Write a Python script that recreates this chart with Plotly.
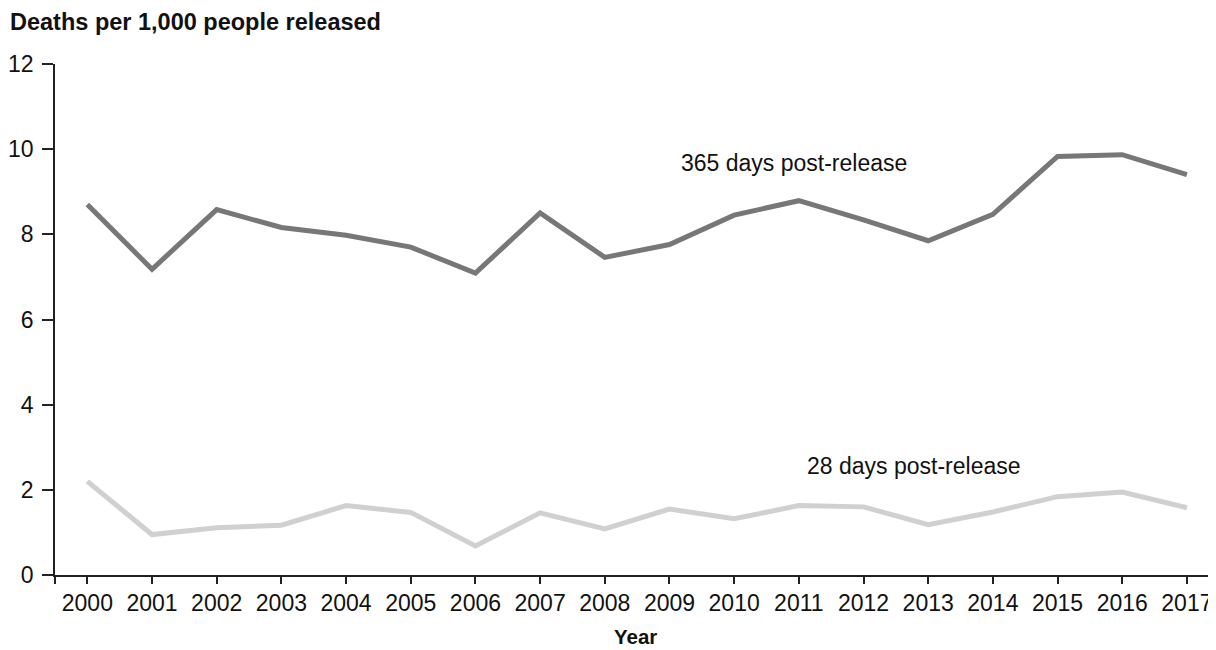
import plotly.graph_objects as go

years = list(range(2000, 2018))
deaths_365 = [8.7, 7.18, 8.58, 8.16, 7.98, 7.7, 7.09, 8.5, 7.46, 7.76, 8.45, 8.79, 8.34, 7.85, 8.47, 9.83, 9.87, 9.4]
deaths_28 = [2.2, 0.95, 1.11, 1.17, 1.63, 1.47, 0.68, 1.46, 1.08, 1.55, 1.32, 1.63, 1.6, 1.18, 1.48, 1.84, 1.95, 1.58]
y_ticks = [0, 2, 4, 6, 8, 10, 12]
label_365 = "365 days post-release"
label_28 = "28 days post-release"

FONT = "Liberation Sans, Arial, sans-serif"

# the page body has an 8px default margin; size the figure to fill the rest
W, H = 1208, 642

fig = go.Figure()
fig.add_trace(go.Scatter(x=years, y=deaths_365, mode="lines",
                         line=dict(color="#777777", width=5), name=label_365,
                         showlegend=False))
fig.add_trace(go.Scatter(x=years, y=deaths_28, mode="lines",
                         line=dict(color="#d0d0d0", width=5), name=label_28,
                         showlegend=False))

fig.add_annotation(x=2010.93, y=9.67, text=label_365, showarrow=False,
                   font=dict(size=23, color="#111111", family=FONT))
fig.add_annotation(x=2012.78, y=2.56, text=label_28, showarrow=False,
                   font=dict(size=23, color="#111111", family=FONT))
fig.add_annotation(xref="paper", yref="paper", x=0.5, y=(575 - 636) / 511,
                   text="<b>Year</b>", showarrow=False, xanchor="center",
                   yanchor="middle",
                   font=dict(size=20.5, color="#111111", family=FONT))

tickvals = [1999.5] + years
ticktext = [""] + [str(y) for y in years]

fig.update_layout(
    width=W, height=H,
    margin=dict(l=47, r=0, t=56, b=75, autoexpand=False),
    paper_bgcolor="white", plot_bgcolor="white",
    font=dict(family=FONT, size=23, color="#111111"),
    title=dict(text="<b>Deaths per 1,000 people released</b>",
               xref="container", yref="container",
               x=2/W, xanchor="left", y=1-14/H, yanchor="middle",
               font=dict(size=23.5, family=FONT, color="#111111")),
    xaxis=dict(range=[1999.5, 2017.45], tickmode="array", tickvals=tickvals,
               ticktext=ticktext, ticks="outside", ticklen=7, tickwidth=1.5,
               tickcolor="#222222", showline=True, linecolor="#222222",
               linewidth=1.5, showgrid=False, zeroline=False, automargin=False,
               tickfont=dict(size=23, family=FONT, color="#111111")),
    yaxis=dict(range=[0, 12], tickmode="array", tickvals=y_ticks,
               ticks="outside", ticklen=11, tickwidth=1.5, tickcolor="#222222",
               showline=True, linecolor="#222222", linewidth=1.5,
               showgrid=False, zeroline=False, automargin=False,
               ticklabelstandoff=4,
               tickfont=dict(size=23, family=FONT, color="#111111")),
)

fig.write_html("out.html")
